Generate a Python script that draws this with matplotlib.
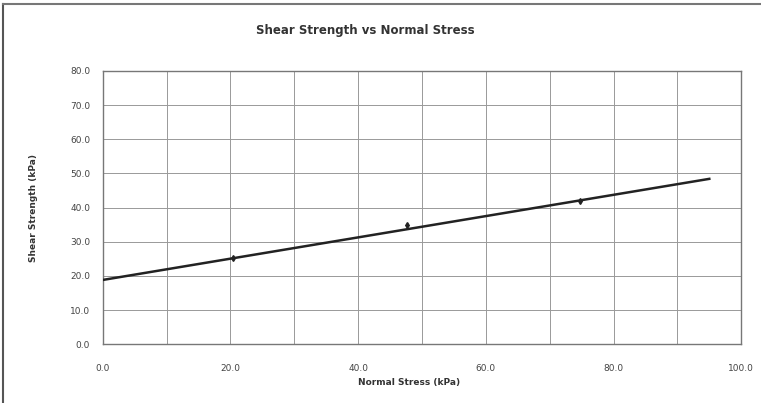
#!/usr/bin/env python3
import numpy as np
import matplotlib.pyplot as plt
from matplotlib.lines import Line2D

# ---- Data ----
normal_stress = [20.4, 47.6, 74.8]      # kPa, measured points
shear_strength = [25.2, 34.9, 42.0]     # kPa
fit_x = [0.0, 95.0]                     # fitted failure envelope
fit_y = [18.8, 48.4]

x_ticks = np.arange(0, 101, 20)
y_ticks = np.arange(0, 81, 10)

fig = plt.figure(figsize=(7.61, 4.03), dpi=100)
ax = fig.add_axes([0.135, 0.146, 0.839, 0.678])

ax.plot(fit_x, fit_y, color="#222222", lw=1.8, zorder=3)
ax.plot(normal_stress, shear_strength, ls="none", marker="d", ms=3,
        color="#222222", zorder=4)

ax.set_xlim(0, 100)
ax.set_ylim(0, 80)
ax.set_xticks(x_ticks)
ax.set_xticks(np.arange(0, 101, 10), minor=True)
ax.set_yticks(y_ticks)
ax.set_xticklabels([f"{v:.1f}" for v in x_ticks], fontsize=6.5, color="#444444")
ax.set_yticklabels([f"{v:.1f}" for v in y_ticks], fontsize=6.5, color="#444444")
ax.tick_params(which="both", length=0)
ax.tick_params(axis="x", pad=14)
ax.tick_params(axis="y", pad=9)
ax.grid(True, which="both", color="#999999", lw=0.7)
for s in ax.spines.values():
    s.set_color("#777777")
    s.set_linewidth(1.0)

ax.set_xlabel("Normal Stress (kPa)", fontsize=6.5, fontweight="bold",
              color="#333333")
ax.xaxis.set_label_coords(0.48, -0.125)
ax.set_ylabel("Shear Strength (kPa)", fontsize=6.5, fontweight="bold",
              color="#333333")
ax.yaxis.set_label_coords(-0.102, 0.5)
fig.text(0.48, 0.925, "Shear Strength vs Normal Stress", ha="center",
         va="center", fontsize=8.5, fontweight="bold", color="#333333")

# frame of the scanned chart
fig.add_artist(Line2D([0.004, 0.004], [0.0, 0.99], color="#555555", lw=1.5))
fig.add_artist(Line2D([0.004, 1.0], [0.99, 0.99], color="#777777", lw=1.5))

fig.savefig("out.png", dpi=100)
